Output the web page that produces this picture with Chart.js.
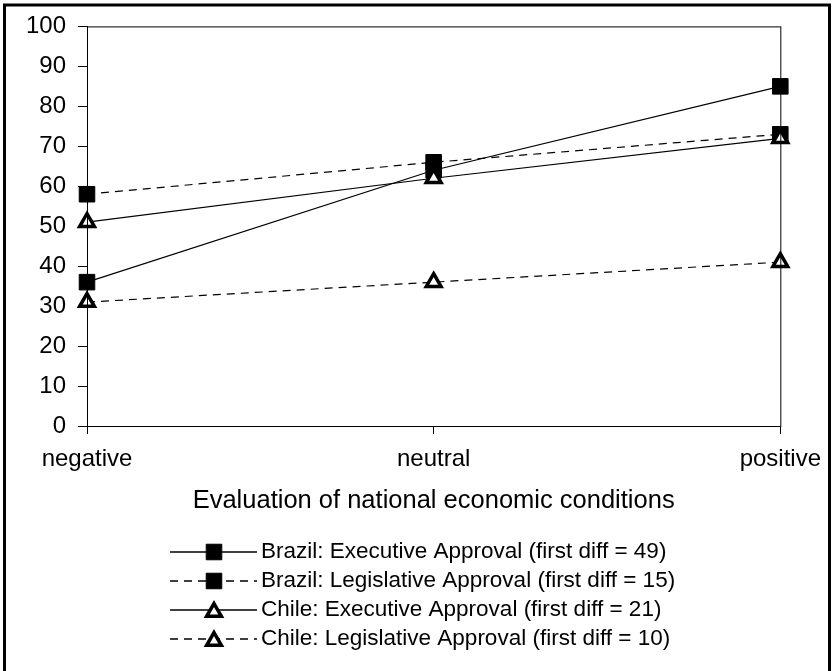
<!DOCTYPE html>
<html>
<head>
<meta charset="utf-8">
<script src="https://cdn.jsdelivr.net/npm/chart.js@4.4.1/dist/chart.umd.min.js"></script>
<style>
  html, body { margin: 0; padding: 0; background: #fff; }
  canvas { display: block; }
</style>
</head>
<body>
<canvas id="chart" width="832" height="671"></canvas>
<script>
// values
const categories = ['negative', 'neutral', 'positive'];
const brazilExec = [36, 64, 85];
const brazilLeg = [58, 66, 73];
const chileExec = [51, 62, 72];
const chileLeg = [31, 36, 41];
const seriesLabels = [
  'Brazil: Executive Approval (first diff = 49)',
  'Brazil: Legislative Approval (first diff = 15)',
  'Chile: Executive Approval (first diff = 21)',
  'Chile: Legislative Approval (first diff = 10)',
];
const yMin = 0, yMax = 100, yStep = 10;
const xTitle = 'Evaluation of national economic conditions';

const FONT = '"Liberation Sans", Arial, sans-serif';
const DASH = [8, 6];

Chart.defaults.color = '#000';
Chart.defaults.font.family = FONT;

function square(data, label, dashed) {
  return {
    label, data,
    borderColor: '#000', borderWidth: 1.2, borderDash: dashed ? DASH : [],
    pointStyle: 'rect', pointRadius: 11, pointHoverRadius: 11,
    pointBackgroundColor: '#000', pointBorderColor: '#000', pointBorderWidth: 1,
    order: 1, clip: false, tension: 0,
  };
}

function triangle(data, label, dashed) {
  return {
    label, data,
    borderColor: '#000', borderWidth: 1.2, borderDash: dashed ? DASH : [],
    pointStyle: 'triangle', pointRadius: 8.5, pointHoverRadius: 8.5,
    pointBackgroundColor: '#fff', pointBorderColor: '#000', pointBorderWidth: 3.5,
    order: 0, clip: false, tension: 0,
  };
}

// box round the plot, the legend below it and the outer frame
const framePlugin = {
  id: 'frame',
  afterDraw(chart) {
    const {ctx, chartArea: a} = chart;
    ctx.save();
    ctx.strokeStyle = '#000';
    ctx.lineWidth = 1;
    ctx.strokeRect(a.left + 0.5, a.top + 0.5, a.right - a.left, a.bottom - a.top);

    // legend rows: line with marker in the middle, then the label
    const rowY = 552, rowStep = 29;
    chart.data.datasets.forEach((ds, i) => {
      const y = rowY + i * rowStep;
      ctx.setLineDash(ds.borderDash || []);
      ctx.lineWidth = 1.3;
      ctx.beginPath();
      ctx.moveTo(170, y);
      ctx.lineTo(257, y);
      ctx.stroke();
      ctx.setLineDash([]);
      ctx.fillStyle = ds.pointBackgroundColor;
      ctx.strokeStyle = ds.pointBorderColor;
      ctx.lineWidth = ds.pointBorderWidth;
      ctx.lineJoin = 'miter';
      Chart.helpers.drawPoint(ctx, {
        pointStyle: ds.pointStyle, radius: ds.pointRadius, rotation: 0,
        borderWidth: ds.pointBorderWidth,
      }, 214, y + (ds.pointStyle === 'triangle' ? 2 : 0));
      ctx.strokeStyle = '#000';
      ctx.fillStyle = '#000';
      ctx.font = '22.5px ' + FONT;
      ctx.textBaseline = 'middle';
      ctx.textAlign = 'left';
      ctx.fillText(ds.label, 261, y);
    });

    ctx.lineWidth = 3;
    ctx.strokeRect(4.5, 5, 825, 700);
    ctx.restore();
  }
};

new Chart(document.getElementById('chart'), {
  type: 'line',
  data: {
    labels: categories,
    datasets: [
      square(brazilExec, seriesLabels[0], false),
      square(brazilLeg, seriesLabels[1], true),
      triangle(chileExec, seriesLabels[2], false),
      triangle(chileLeg, seriesLabels[3], true),
    ],
  },
  options: {
    responsive: false,
    animation: false,
    layout: { padding: { top: 25, right: 51, bottom: 155, left: 0 } },
    plugins: {
      legend: { display: false },
      tooltip: { enabled: false },
    },
    scales: {
      x: {
        offset: false,
        grid: { drawOnChartArea: false, drawTicks: true, tickLength: 8, color: '#000', offset: false },
        border: { display: true, color: '#000', width: 1 },
        ticks: { font: { size: 24 }, padding: 11, maxRotation: 0, autoSkip: false },
        title: { display: true, text: xTitle, font: { size: 25.5 }, padding: { top: 0, bottom: 0 } },
        afterFit(scale) { scale.height = 90; },
      },
      y: {
        min: yMin, max: yMax,
        grid: { drawOnChartArea: false, drawTicks: true, tickLength: 9, color: '#000' },
        border: { display: true, color: '#000', width: 1 },
        ticks: { stepSize: yStep, font: { size: 24 }, padding: 12 },
        afterFit(scale) { scale.width = 87; },
      },
    },
  },
  plugins: [framePlugin],
});
</script>
</body>
</html>
